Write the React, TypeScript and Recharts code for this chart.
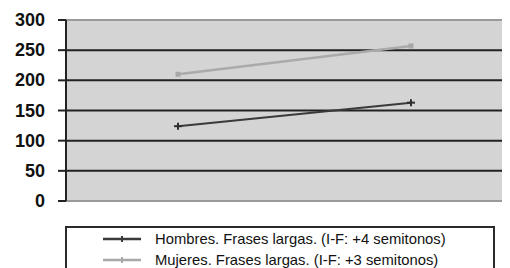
import React from "react";
import { LineChart, Line, XAxis, YAxis, CartesianGrid, ReferenceLine, Legend } from "recharts";

const categories = ["I", "F"];
const hombres = [124, 163];
const mujeres = [210, 257];
const yTicks = [0, 50, 100, 150, 200, 250, 300];
const seriesNames = [
  "Hombres. Frases largas. (I-F: +4 semitonos)",
  "Mujeres. Frases largas. (I-F: +3 semitonos)",
];

const data = categories.map((c, i) => ({ cat: c, h: hombres[i], m: mujeres[i] }));

const HDot = (props: any) => {
  const { cx, cy } = props;
  if (cx == null || cy == null) return null;
  return (
    <g>
      <line x1={cx - 4} y1={cy} x2={cx + 4} y2={cy} stroke="#2e2e2e" strokeWidth={2} />
      <line x1={cx} y1={cy - 3.5} x2={cx} y2={cy + 3.5} stroke="#2e2e2e" strokeWidth={2} />
    </g>
  );
};

const MDot = (props: any) => {
  const { cx, cy } = props;
  if (cx == null || cy == null) return null;
  return <rect x={cx - 2.5} y={cy - 2.5} width={5} height={5} fill="#a8a8a8" />;
};

const YTick = (props: any) => {
  const { x, y, payload } = props;
  return (
    <text
      x={45}
      y={y}
      dy={6}
      textAnchor="end"
      style={{ fontFamily: "'Liberation Sans', Arial, sans-serif", fontSize: 18, fontWeight: 700, fill: "#111" }}
    >
      {payload.value}
    </text>
  );
};

const LegendBox = () => {
  const colors = ["#3a3a3a", "#a8a8a8"];
  return (
    <div
      style={{
        width: 430,
        height: 60,
        border: "2px solid #2a2a2a",
        background: "#fff",
        boxSizing: "border-box",
        paddingTop: 0,
        fontFamily: "'Liberation Sans', Arial, sans-serif",
        fontSize: 14.8,
        color: "#111",
      }}
    >
      {seriesNames.map((n, i) => (
        <div key={n} style={{ display: "flex", alignItems: "center", height: 21 }}>
          <svg width={88} height={10} style={{ flex: "none" }}>
            <line x1={36} y1={5} x2={74} y2={5} stroke={colors[i]} strokeWidth={2.5} />
            <line x1={55} y1={2} x2={55} y2={8} stroke={colors[i]} strokeWidth={2} />
          </svg>
          <span style={{ whiteSpace: "nowrap" }}>{n}</span>
        </div>
      ))}
    </div>
  );
};

export default function App() {
  return (
    <div style={{ margin: "-8px 0 0 -8px", width: 510, height: 268, overflow: "hidden", background: "#fff" }}>
      <LineChart width={510} height={268} data={data} margin={{ top: 20, right: 0, bottom: 67, left: 0 }}>
        <CartesianGrid
          horizontal
          vertical={false}
          fill="#d4d4d4"
          stroke="#222"
          strokeWidth={2}
          horizontalValues={[50, 100, 150, 200, 250]}
        />
        <ReferenceLine y={300} stroke="#9a9a9a" strokeWidth={2} />
        <ReferenceLine y={0} stroke="#9a9a9a" strokeWidth={2} />
        <XAxis dataKey="cat" hide padding={{ left: 112, right: 99 }} />
        <YAxis
          width={66}
          domain={[0, 300]}
          ticks={yTicks}
          interval={0}
          tickSize={8}
          axisLine={{ stroke: "#222", strokeWidth: 2 }}
          tickLine={{ stroke: "#222", strokeWidth: 2 }}
          tick={<YTick />}
        />
        <Line
          dataKey="m"
          name={seriesNames[1]}
          stroke="#aaaaaa"
          strokeWidth={2.5}
          dot={<MDot />}
          activeDot={false}
          isAnimationActive={false}
        />
        <Line
          dataKey="h"
          name={seriesNames[0]}
          stroke="#3a3a3a"
          strokeWidth={2}
          dot={<HDot />}
          activeDot={false}
          isAnimationActive={false}
        />
        <Legend
          layout="horizontal"
          align="center"
          verticalAlign="middle"
          content={() => <LegendBox />}
          wrapperStyle={{ position: "absolute", left: 65, top: 226, width: 430 }}
        />
      </LineChart>
    </div>
  );
}
